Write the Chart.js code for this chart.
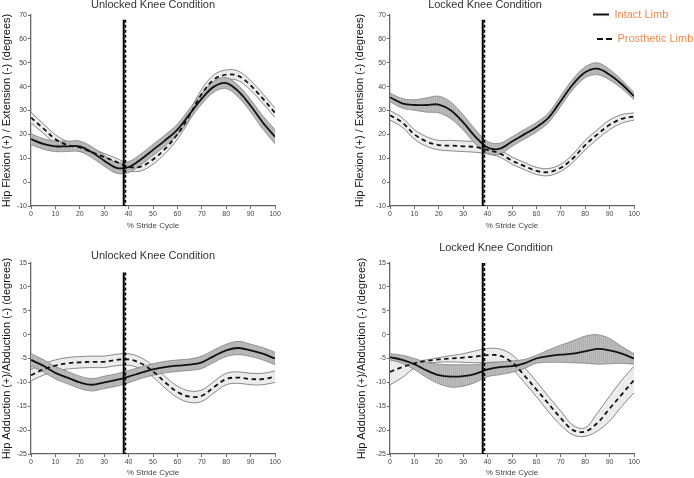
<!DOCTYPE html>
<html><head><meta charset="utf-8">
<script src="https://cdn.jsdelivr.net/npm/chart.js@4.4.1/dist/chart.umd.min.js"></script>
<style>
html,body{margin:0;padding:0;background:#fff;width:694px;height:478px;overflow:hidden}
.p{position:absolute;width:347px;height:239px}
</style></head><body>
<div class="p" style="left:0;top:0"><canvas id="c0"></canvas></div>
<div class="p" style="left:347px;top:0"><canvas id="c1"></canvas></div>
<div class="p" style="left:0;top:239px"><canvas id="c2"></canvas></div>
<div class="p" style="left:347px;top:239px"><canvas id="c3"></canvas></div>
<script>
// ---- data ----
const stride = [0,5,10,15,20,25,30,35,40,45,50,55,60,65,70,75,80,85,90,95,100];
const xTicks = [0,10,20,30,40,50,60,70,80,90,100];
const flexTicks = [-10,0,10,20,30,40,50,60,70];
const adTicks = [-25,-20,-15,-10,-5,0,5,10,15];
const toeOffPct = 38;

// Hip flexion, unlocked knee
const flexUnlockedIntact = [18,16,15,15,15,12.5,9,6,6.3,9.5,13.5,17.5,22,28.5,35,40,41.5,38,32,25,19];
const flexUnlockedIntactSD = [2.3,2.2,2.2,2.2,2.2,2.3,2.3,2.3,2.3,2.3,2.3,2.3,2.3,2.3,2.3,2.3,2.3,2.5,2.6,2.8,3];
const flexUnlockedProst = [27,22.5,18,15.5,14.5,12.5,10.5,8.5,6.3,6.5,9.5,14,20,28,37,43,45,44.5,40.5,35,29];
const flexUnlockedProstSD = [2.2,2,1.8,1.5,1.5,1.5,1.5,1.5,1.6,1.8,2,2,2,2,2,2,2,2,2,2,2];

// Hip flexion, locked knee
const flexLockedIntact = [35.5,33,32.3,32.3,32.5,30,25,19,14.5,14,17,20,23,27,34,41,46,47.5,45,41,36];
const flexLockedIntactSD = [1.8,2,2.2,3,3.5,3.5,3.2,3,2.5,2.3,2,2,2,2,2.2,2.2,2.3,2.5,2.2,1.8,1.5];
const flexLockedProst = [28,25,20,17,15.5,15.3,15,14.7,13.5,12,9,6.8,4.7,4.2,6,10,15.5,20,24,26.5,27.5];
const flexLockedProstSD = [2,2,2,2,2,2.2,2.2,2.2,1.7,1.5,1.5,1.5,1.5,1.5,1.5,1.7,2,2,2,1.8,1.5];

// Hip adduction, unlocked knee
const adUnlockedIntact = [-5.3,-6.5,-8,-9,-10,-10.5,-10,-9.5,-8.8,-8,-7.3,-6.8,-6.5,-6.3,-5.8,-4.5,-3.3,-2.8,-3.3,-4,-5];
const adUnlockedIntactSD = [1.3,1.3,1.3,1.3,1.3,1.3,1.3,1.3,1.3,1.2,1.2,1.2,1.2,1.2,1.3,1.3,1.3,1.4,1.3,1.3,1.3];
const adUnlockedProst = [-8.5,-7.3,-6.5,-6,-5.8,-5.7,-5.7,-5.3,-5.2,-6,-7.7,-10,-12,-13,-12.8,-11,-9.3,-9,-9.3,-9.3,-8.8];
const adUnlockedProstSD = [1.2,1.2,1.2,1.2,1.2,1.2,1.2,1.2,1.2,1.2,1.2,1.2,1.2,1.2,1.2,1.2,1.2,1.2,1.2,1.2,1.2];

// Hip adduction, locked knee
const adLockedIntact = [-4.7,-5.3,-6.2,-7.5,-8.5,-8.8,-8.7,-8.2,-7.3,-6.8,-6.6,-6,-5,-4.5,-4.2,-4,-3.5,-3,-3.3,-4,-5];
const adLockedIntactHi = [-4,-4.3,-5,-5.8,-6.2,-6.3,-6.3,-6.3,-6,-5.7,-5.5,-5.2,-4.3,-3.2,-2.2,-1.3,-0.3,0,-0.8,-2.5,-4];
const adLockedIntactLo = [-5.3,-6,-7.3,-9,-10.3,-11,-10.8,-10,-8.8,-8.4,-7.9,-7.1,-6,-5.8,-5.8,-5.9,-6,-6.2,-6.1,-6,-6.2];
const adLockedProst = [-7.8,-6.8,-6,-5.5,-5.2,-5,-4.8,-4.6,-4.3,-4.4,-5.8,-8.5,-11.5,-14.5,-17.5,-20,-20.3,-18.5,-15.5,-12.5,-9.5];
const adLockedProstHi = [-5.2,-5.3,-5.5,-5.3,-4.8,-4.4,-4,-3.4,-2.9,-3,-4.2,-6.8,-9.8,-13,-16,-19,-19.5,-16.4,-12.9,-9.5,-6.6];
const adLockedProstLo = [-10.5,-9,-7,-6,-5.8,-5.7,-5.8,-5.9,-5.8,-5.9,-7.2,-10,-13,-16.2,-19,-21,-21.3,-20.2,-18.1,-15,-12.2];

// ---- build ----
const FAM = '"Liberation Sans", Arial, Helvetica, sans-serif';
Chart.defaults.font.family = FAM;

function stripes(a, b) {
  const c = document.createElement('canvas'); c.width = 2; c.height = 1;
  const g = c.getContext('2d');
  g.fillStyle = a; g.fillRect(0,0,1,1);
  g.fillStyle = b; g.fillRect(1,0,1,1);
  return g.createPattern(c, 'repeat');
}
const pts = arr => stride.map((x,i) => ({x:x, y:arr[i]}));
const add = (m, s, k) => m.map((v,i) => v + k*s[i]);

const panels = [
  {id:'c0', title:'Unlocked Knee Condition', tx:153, ty:4.5, ymin:-10, ymax:70, yTicks:flexTicks, vTop:68,
   ytitle:'Hip Flexion (+) / Extension (-) (degrees)',
   iM:flexUnlockedIntact, iHi:add(flexUnlockedIntact,flexUnlockedIntactSD,1), iLo:add(flexUnlockedIntact,flexUnlockedIntactSD,-1),
   pM:flexUnlockedProst, pHi:add(flexUnlockedProst,flexUnlockedProstSD,1), pLo:add(flexUnlockedProst,flexUnlockedProstSD,-1),
   yW:31, xH:33, padTop:15, padRight:72, yTP:0, xTP:8, legend:false},
  {id:'c1', title:'Locked Knee Condition', tx:138, ty:5, ymin:-10, ymax:70, yTicks:flexTicks, vTop:68,
   ytitle:'Hip Flexion (+) / Extension (-) (degrees)',
   iM:flexLockedIntact, iHi:add(flexLockedIntact,flexLockedIntactSD,1), iLo:add(flexLockedIntact,flexLockedIntactSD,-1),
   pM:flexLockedProst, pHi:add(flexLockedProst,flexLockedProstSD,1), pLo:add(flexLockedProst,flexLockedProstSD,-1),
   yW:43, xH:33, padTop:15, padRight:60, yTP:6.5, xTP:8, legend:true},
  {id:'c2', title:'Unlocked Knee Condition', tx:153, ty:17, ymin:-25, ymax:15, yTicks:adTicks, vTop:13,
   ytitle:'Hip Adduction (+)/Abduction (-) (degrees)',
   iM:adUnlockedIntact, iHi:add(adUnlockedIntact,adUnlockedIntactSD,1), iLo:add(adUnlockedIntact,adUnlockedIntactSD,-1),
   pM:adUnlockedProst, pHi:add(adUnlockedProst,adUnlockedProstSD,1), pLo:add(adUnlockedProst,adUnlockedProstSD,-1),
   yW:31, xH:24, padTop:24, padRight:72, yTP:0, xTP:0, legend:false},
  {id:'c3', title:'Locked Knee Condition', tx:149, ty:9, ymin:-25, ymax:15, yTicks:adTicks, vTop:15,
   ytitle:'Hip Adduction (+)/Abduction (-) (degrees)',
   iM:adLockedIntact, iHi:adLockedIntactHi, iLo:adLockedIntactLo,
   pM:adLockedProst, pHi:adLockedProstHi, pLo:adLockedProstLo,
   yW:43, xH:24, padTop:24, padRight:60, yTP:8, xTP:0, legend:false}
];

const decor = {
  id:'decor',
  afterDraw(chart, args, opts) {
    const ctx = chart.ctx; ctx.save();
    ctx.fillStyle = '#333'; ctx.font = '11px ' + FAM;
    ctx.textAlign = 'center'; ctx.textBaseline = 'middle';
    ctx.fillText(opts.title, opts.tx, opts.ty);
    if (opts.legend) {
      ctx.strokeStyle = '#111'; ctx.lineWidth = 2;
      ctx.beginPath(); ctx.moveTo(246,14.5); ctx.lineTo(262,14.5); ctx.stroke();
      ctx.setLineDash([6,3]);
      ctx.beginPath(); ctx.moveTo(250,39); ctx.lineTo(266,39); ctx.stroke();
      ctx.setLineDash([]);
      ctx.fillStyle = '#f28a48'; ctx.textAlign = 'left';
      ctx.fillText('Intact Limb', 267.5, 14.5);
      ctx.fillText('Prosthetic Limb', 270.5, 39);
    }
    ctx.restore();
  }
};

panels.forEach(P => {
  const darkFill = stripes('#b0b0b0', '#bdbdbd');
  const lightFill = stripes('#e8e8e8', '#f0f0f0');
  new Chart(document.getElementById(P.id), {
    type:'line',
    data:{datasets:[
      {data:[{x:toeOffPct,y:P.vTop},{x:toeOffPct,y:P.ymin}], borderColor:'#000', borderWidth:2, tension:0},
      {data:[{x:toeOffPct+0.7,y:P.vTop},{x:toeOffPct+0.7,y:P.ymin}], borderColor:'#000', borderWidth:1.6, borderDash:[3,2], tension:0},
      {data:pts(P.iM), borderColor:'#111', borderWidth:1.8},
      {data:pts(P.pM), borderColor:'#111', borderWidth:1.8, borderDash:[4.5,3.5]},
      {data:pts(P.iHi), borderColor:'#777', borderWidth:0.7},
      {data:pts(P.iLo), borderColor:'#777', borderWidth:0.7, fill:'-1', backgroundColor:darkFill},
      {data:pts(P.pHi), borderColor:'#5a5a5a', borderWidth:0.7},
      {data:pts(P.pLo), borderColor:'#5a5a5a', borderWidth:0.7, fill:'-1', backgroundColor:lightFill}
    ]},
    options:{
      responsive:true, maintainAspectRatio:false, animation:false,
      layout:{padding:{top:P.padTop, right:P.padRight, left:0, bottom:0}},
      elements:{point:{radius:0}, line:{tension:0.35, fill:false}},
      plugins:{legend:{display:false}, tooltip:{enabled:false},
        decor:{title:P.title, tx:P.tx, ty:P.ty, legend:P.legend}},
      scales:{
        x:{type:'linear', min:0, max:100,
          afterBuildTicks:s => { s.ticks = xTicks.map(v => ({value:v})); },
          ticks:{font:{size:7}, color:'#444', padding:1, maxRotation:0, autoSkip:false},
          grid:{display:true, drawOnChartArea:false, tickLength:3, color:'#666'},
          border:{color:'#666', width:1.3},
          title:{display:true, text:'% Stride Cycle', font:{size:8}, color:'#444', padding:{top:0, bottom:P.xTP}},
          afterFit:s => { s.height = P.xH; }},
        y:{min:P.ymin, max:P.ymax,
          afterBuildTicks:s => { s.ticks = P.yTicks.map(v => ({value:v})); },
          ticks:{font:{size:7}, color:'#444', padding:1, autoSkip:false},
          grid:{display:true, drawOnChartArea:false, tickLength:3, color:'#666'},
          border:{color:'#666', width:1.3},
          title:{display:true, text:P.ytitle, font:{size:11}, color:'#111', padding:{top:P.yTP, bottom:0}},
          afterFit:s => { s.width = P.yW; }}
      }
    },
    plugins:[decor]
  });
});
</script>
</body></html>
